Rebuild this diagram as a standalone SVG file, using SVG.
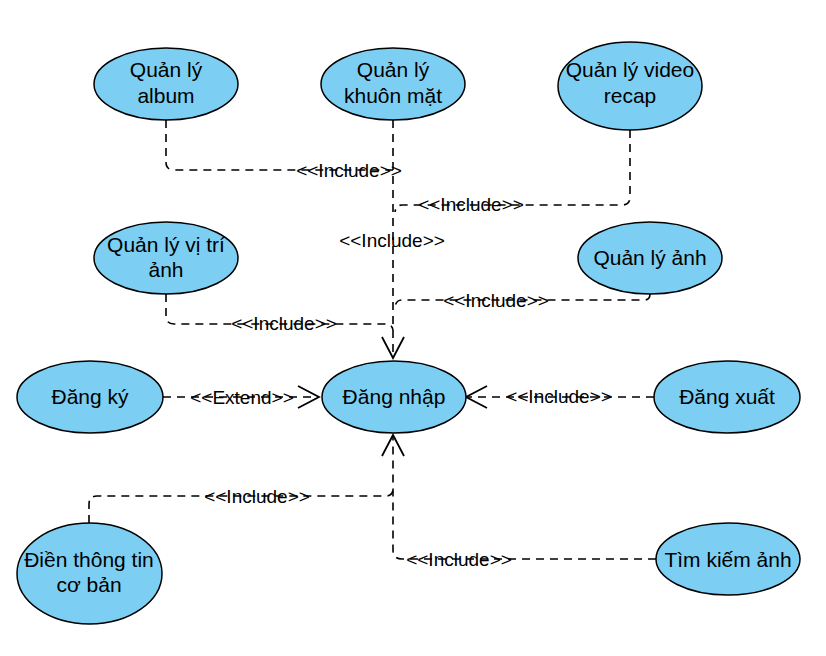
<svg xmlns="http://www.w3.org/2000/svg" width="826" height="656" viewBox="0 0 826 656">
<style>
.uc ellipse{fill:#7ccff3;stroke:#000;stroke-width:1.5}
.uc text{font-family:"Liberation Sans",Arial,sans-serif;font-size:21px;fill:#000;text-anchor:middle}
.ln{fill:none;stroke:#000;stroke-width:1.6;stroke-dasharray:8 6}
.lbl{font-family:"Liberation Sans",Arial,sans-serif;font-size:19px;fill:#000;text-anchor:middle}
</style>
<defs>
<marker id="open" markerUnits="userSpaceOnUse" markerWidth="26" markerHeight="26" viewBox="-23 -13 26 26" refX="0" refY="0" orient="auto" overflow="visible">
<path d="M-21,-11 L0,0 L-21,11" fill="none" stroke="#000" stroke-width="1.8" stroke-dasharray="none"/>
</marker>
</defs>
<rect width="826" height="656" fill="#fff"/>
<g id="connectors">
<path class="ln" d="M393,120 V358" marker-end="url(#open)"/>
<path class="ln" d="M166,120 V162 Q166,170 174,170 H393"/>
<path class="ln" d="M630,130 V197 Q630,205 622,205 H402 Q396,205 395,212"/>
<path class="ln" d="M166,294 V316 Q166,324 174,324 H385 Q392,324 393,330"/>
<path class="ln" d="M650,294 Q650,300 644,300 H402 Q396,300 395,307"/>
<path class="ln" d="M163,397 H319" marker-end="url(#open)"/>
<path class="ln" d="M654,397 H466" marker-end="url(#open)"/>
<path class="ln" d="M656,559 H402 Q393,559 393,550 V435" marker-end="url(#open)"/>
<path class="ln" d="M89,523 V504 Q89,496 97,496 H386 Q392,496 393,490"/>
<text class="lbl" x="349" y="177">&lt;&lt;Include&gt;&gt;</text>
<text class="lbl" x="392" y="247">&lt;&lt;Include&gt;&gt;</text>
<text class="lbl" x="471" y="211">&lt;&lt;Include&gt;&gt;</text>
<text class="lbl" x="284" y="330">&lt;&lt;Include&gt;&gt;</text>
<text class="lbl" x="496" y="307">&lt;&lt;Include&gt;&gt;</text>
<text class="lbl" x="242" y="404">&lt;&lt;Extend&gt;&gt;</text>
<text class="lbl" x="559" y="403">&lt;&lt;Include&gt;&gt;</text>
<text class="lbl" x="257" y="503">&lt;&lt;Include&gt;&gt;</text>
<text class="lbl" x="459" y="566">&lt;&lt;Include&gt;&gt;</text>
</g>
<g id="ql-album" class="uc"><ellipse cx="166" cy="84" rx="72" ry="36"/><text x="166" y="77">Quản lý</text><text x="166" y="103">album</text></g>
<g id="ql-khuon-mat" class="uc"><ellipse cx="393" cy="84" rx="72" ry="36"/><text x="393" y="77">Quản lý</text><text x="393" y="103">khuôn mặt</text></g>
<g id="ql-video" class="uc"><ellipse cx="630" cy="86" rx="72" ry="44"/><text x="630" y="77">Quản lý video</text><text x="630" y="103">recap</text></g>
<g id="ql-vi-tri" class="uc"><ellipse cx="166" cy="258" rx="72" ry="36"/><text x="166" y="252">Quản lý vị trí</text><text x="166" y="277">ảnh</text></g>
<g id="ql-anh" class="uc"><ellipse cx="650" cy="258" rx="72" ry="36"/><text x="650" y="265">Quản lý ảnh</text></g>
<g id="dang-ky" class="uc"><ellipse cx="90" cy="397" rx="73" ry="36"/><text x="90" y="404">Đăng ký</text></g>
<g id="dang-nhap" class="uc"><ellipse cx="394" cy="397" rx="72" ry="36"/><text x="394" y="404">Đăng nhập</text></g>
<g id="dang-xuat" class="uc"><ellipse cx="727" cy="397" rx="73" ry="36"/><text x="727" y="404">Đăng xuất</text></g>
<g id="dien-thong-tin" class="uc"><ellipse cx="89.5" cy="573.5" rx="72.5" ry="50.5"/><text x="89" y="567">Điền thông tin</text><text x="89" y="592">cơ bản</text></g>
<g id="tim-kiem" class="uc"><ellipse cx="728" cy="559" rx="72" ry="36"/><text x="728" y="567">Tìm kiếm ảnh</text></g>
</svg>
